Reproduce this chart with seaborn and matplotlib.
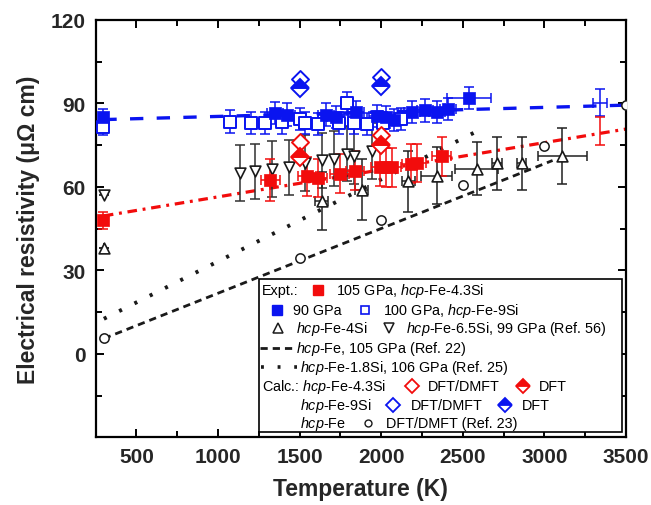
import numpy as np
import pandas as pd
import matplotlib
matplotlib.use("Agg")
import matplotlib.pyplot as plt
import seaborn as sns
from matplotlib.patches import Rectangle
from matplotlib.lines import Line2D

sns.set_theme(style="ticks")
plt.rcParams['font.family'] = ['Liberation Sans', 'DejaVu Sans']
plt.rcParams['mathtext.fontset'] = 'custom'
plt.rcParams['mathtext.rm'] = 'Liberation Sans'
plt.rcParams['mathtext.it'] = 'Liberation Sans:italic'
plt.rcParams['mathtext.bf'] = 'Liberation Sans:bold'

BLUE = '#0a14f0'
RED = '#f20c0c'
BLK = '#1a1a1a'

# ---- Expt. 90 GPa (filled blue squares) ----
T_90 = [297, 1350, 1420, 1660, 1720, 1845, 1975, 2030, 2080, 2190, 2270, 2340, 2410, 2535]
R_90 = [85.0, 86.5, 86.0, 86.0, 85.0, 87.0, 85.5, 85.0, 84.0, 87.0, 87.5, 87.0, 88.0, 92.0]
Rerr_90 = [3, 4, 4, 4, 4, 4, 4, 4, 4, 4, 4, 4, 4, 4]
Terr_90 = [0, 50, 50, 50, 50, 50, 50, 50, 50, 50, 50, 50, 50, 135]
# ---- Expt. 100 GPa, hcp-Fe-9Si (open blue squares) ----
T_100 = [297, 1075, 1200, 1285, 1390, 1500, 1530, 1615, 1740, 1790, 1830, 1910, 2010, 2120]
R_100 = [81.5, 83.5, 83.0, 83.0, 83.2, 84.5, 83.0, 82.5, 83.0, 90.0, 83.0, 82.5, 83.0, 84.3]
Rerr_100 = [3, 4, 4, 4, 4, 4, 4, 4, 4, 4, 4, 4, 4, 4]
Terr_100 = [0, 35, 35, 35, 35, 35, 35, 35, 35, 35, 35, 35, 35, 35]
# ---- Expt. 105 GPa, hcp-Fe-4.3Si (filled red squares) ----
T_105 = [297, 1320, 1545, 1610, 1745, 1840, 1995, 2030, 2065, 2185, 2220, 2370]
R_105 = [48.0, 62.4, 63.8, 63.2, 64.8, 65.8, 67.2, 67.0, 67.0, 68.4, 68.6, 71.0]
Rerr_105 = [3, 7.5, 7, 7, 7, 7, 7, 7, 7, 7, 7, 7]
Terr_105 = [0, 57, 57, 57, 57, 57, 57, 57, 57, 57, 57, 57]
# extrapolated end points with error bars
T_end = [3340]
R_end_90 = [90.3]
R_end_105 = [80.0]
# ---- hcp-Fe-4Si (up triangles) ----
T_4Si = [303, 1635, 1880, 2165, 2340, 2585, 2710, 2860, 3110]
R_4Si = [38.0, 55.0, 59.0, 62.0, 64.0, 66.5, 68.5, 68.5, 71.0]
Rerr_4Si = [0, 10.5, 11, 11, 10.3, 9.5, 9.5, 9.5, 10]
Terr_4Si = [0, 40, 40, 40, 95, 130, 30, 30, 150]
# ---- hcp-Fe-6.5Si, 99 GPa (Ref. 56) (down triangles) ----
T_65Si = [300, 1135, 1228, 1330, 1435, 1530, 1636, 1708, 1790, 1830, 1943]
R_65Si = [57.0, 65.0, 65.6, 66.4, 67.0, 68.7, 69.5, 70.2, 72.0, 71.0, 73.0]
Rerr_65Si = [0, 10, 10, 10, 10, 10, 10, 10, 10, 10, 10]
# ---- Fit / reference lines ----
fitT_90 = [297, 3500]
fitR_90 = [84.2, 89.4]
fitT_105 = [300, 3500]
fitR_105 = [49.6, 80.8]
refT_22 = [300, 3050]
refR_22 = [5.5, 69.5]
refT_25 = [300, 2620]
refR_25 = [12.6, 81.0]
# ---- Calculations ----
T_calc = [1500, 2000]
R_43_dmft = [76.2, 78.8]
R_43_dft = [70.8, 75.0]
R_9_dmft = [98.7, 99.6]
R_9_dft = [95.6, 96.3]
T_fe = [300, 1500, 2000, 2500, 3000, 3500]
R_fe = [5.7, 34.3, 48.0, 60.6, 74.8, 89.5]

W, H = 651, 506
fig = plt.figure(figsize=(W / 100, H / 100), dpi=100)
ax = fig.add_axes([95.7 / W, 1 - 438.3 / H, (626 - 95.7) / W, (438.3 - 21) / H])

# lines
sns.lineplot(x=fitT_90, y=fitR_90, ax=ax, color=BLUE, lw=2.4, linestyle=(0, (4, 4)), zorder=2)
sns.lineplot(x=fitT_105, y=fitR_105, ax=ax, color=RED, lw=2.3, linestyle=(0, (3, 1.8, 0.9, 1.8)), zorder=2)
sns.lineplot(x=refT_22, y=refR_22, ax=ax, color=BLK, lw=2.0, linestyle=(0, (2.6, 1.8)), zorder=2)
sns.lineplot(x=refT_25, y=refR_25, ax=ax, color=BLK, lw=2.8, linestyle=(0, (0.8, 3.6)), zorder=2)

ebk = dict(fmt='none', elinewidth=1.1, capsize=3.5, capthick=1.1, zorder=3)
ax.errorbar(T_65Si, R_65Si, yerr=Rerr_65Si, ecolor='#303030', **ebk)
ax.errorbar(T_4Si, R_4Si, yerr=Rerr_4Si, xerr=Terr_4Si, ecolor='#202020', **ebk)
ax.errorbar(T_105, R_105, yerr=Rerr_105, xerr=Terr_105, ecolor=RED, **ebk)
ax.errorbar(T_100, R_100, yerr=Rerr_100, xerr=Terr_100, ecolor=BLUE, **ebk)
ax.errorbar(T_90, R_90, yerr=Rerr_90, xerr=Terr_90, ecolor=BLUE, **ebk)
ax.errorbar(T_end, R_end_90, yerr=[4.9], xerr=[43], ecolor=BLUE, **ebk)
ax.errorbar(T_end, R_end_105, yerr=[5], ecolor=RED, **ebk)

sns.scatterplot(x=T_65Si, y=R_65Si, ax=ax, marker='v', s=60, facecolor='white', edgecolor=BLK, linewidth=1.2, zorder=4)
sns.scatterplot(x=T_4Si, y=R_4Si, ax=ax, marker='^', s=60, facecolor='white', edgecolor=BLK, linewidth=1.2, zorder=4)
sns.scatterplot(x=T_105, y=R_105, ax=ax, marker='s', s=80, color=RED, edgecolor=RED, linewidth=0.5, zorder=5)
sns.scatterplot(x=T_100, y=R_100, ax=ax, marker='s', s=70, facecolor='white', edgecolor=BLUE, linewidth=1.4, zorder=5)
sns.scatterplot(x=T_90, y=R_90, ax=ax, marker='s', s=80, color=BLUE, edgecolor=BLUE, linewidth=0.5, zorder=6)
sns.scatterplot(x=T_fe, y=R_fe, ax=ax, marker='o', s=45, facecolor='white', edgecolor=BLK, linewidth=1.1, zorder=6)

sns.scatterplot(x=T_calc, y=R_43_dmft, ax=ax, marker='D', s=75, facecolor='white', edgecolor=RED, linewidth=1.4, zorder=7)
sns.scatterplot(x=T_calc, y=R_9_dmft, ax=ax, marker='D', s=75, facecolor='white', edgecolor=BLUE, linewidth=1.4, zorder=7)
ax.plot(T_calc, R_43_dft, ls='none', marker='D', ms=8.8, mfc=RED, mec=RED, mfcalt='white', fillstyle='top', mew=1.4, zorder=7)
ax.plot(T_calc, R_9_dft, ls='none', marker='D', ms=8.8, mfc=BLUE, mec=BLUE, mfcalt='white', fillstyle='top', mew=1.4, zorder=7)

ax.set_xlim(250, 3500)
ax.set_ylim(-30, 120)
ax.set_xticks([500, 1000, 1500, 2000, 2500, 3000, 3500])
ax.set_xticks([750, 1250, 1750, 2250, 2750, 3250], minor=True)
ax.set_yticks([0, 30, 60, 90, 120])
ax.set_yticks([-15, 15, 45, 75, 105], minor=True)
ax.tick_params(which='both', direction='in', top=True, right=True, width=1.4, color='black')
ax.tick_params(which='major', length=6, pad=7, labelsize=15)
ax.tick_params(which='minor', length=4)
for lab in ax.get_xticklabels() + ax.get_yticklabels():
    lab.set_fontweight('bold')
for sp in ax.spines.values():
    sp.set_linewidth(1.6)
    sp.set_color('black')
ax.set_xlabel('Temperature (K)', fontsize=16.5, fontweight='bold', labelpad=8)
ax.set_ylabel('Electrical resistivity (μΩ cm)', fontsize=16.5, fontweight='bold', labelpad=8)

# ---- legend (drawn manually, pixel layout) ----
def P(x, y):
    return (x / W, 1 - y / H)

x0, y0 = P(259, 433.3)
fig.add_artist(Rectangle((x0, y0), (621.7 - 259) / W, (433.3 - 280) / H, transform=fig.transFigure,
                         facecolor='white', edgecolor='black', lw=1.2, zorder=10))
FS = 10.4

def txt(x, y, s):
    fig.text(*P(x, y), s, fontsize=FS, va='center', ha='left', zorder=11, color='black')

def mk(x, y, **kw):
    xx, yy = P(x, y)
    fig.add_artist(Line2D([xx], [yy], transform=fig.transFigure, ls='none', zorder=11, **kw))

def ln(xa, xb, y, **kw):
    xa_, yy = P(xa, y)
    xb_, _ = P(xb, y)
    fig.add_artist(Line2D([xa_, xb_], [yy, yy], transform=fig.transFigure, zorder=11, **kw))

HCP = r'$\mathit{hcp}$'
rows = [290.7, 310.7, 329.3, 349.3, 367.7, 386.7, 405.7, 424.0]
txt(262, rows[0], 'Expt.:')
mk(318.3, rows[0], marker='s', ms=6.5, mfc=RED, mec=RED)
txt(336, rows[0], '105 GPa, ' + HCP + '-Fe-4.3Si')
mk(276.7, rows[1], marker='s', ms=6.5, mfc=BLUE, mec=BLUE)
txt(293, rows[1], '90 GPa')
mk(365, rows[1], marker='s', ms=6, mfc='white', mec=BLUE, mew=1.2)
txt(383, rows[1], '100 GPa, ' + HCP + '-Fe-9Si')
mk(278.3, rows[2], marker='^', ms=6.5, mfc='white', mec=BLK, mew=1.1)
txt(296.5, rows[2], HCP + '-Fe-4Si')
mk(389.3, rows[2], marker='v', ms=6.5, mfc='white', mec=BLK, mew=1.1)
txt(406, rows[2], HCP + '-Fe-6.5Si, 99 GPa (Ref. 56)')
ln(260, 293, rows[3], color=BLK, lw=2.0, ls=(0, (2.6, 1.8)))
txt(296.5, rows[3], HCP + '-Fe, 105 GPa (Ref. 22)')
ln(261, 297, rows[4], color=BLK, lw=2.6, ls=(0, (0.8, 3.8)))
txt(300.5, rows[4], HCP + '-Fe-1.8Si, 106 GPa (Ref. 25)')
txt(262, rows[5], 'Calc.: ' + HCP + '-Fe-4.3Si')
mk(411.7, rows[5], marker='D', ms=7.5, mfc='white', mec=RED, mew=1.3)
txt(428, rows[5], 'DFT/DMFT')
mk(522.7, rows[5], marker='D', ms=7.5, mfc=RED, mec=RED, mfcalt='white', fillstyle='top', mew=1.3)
txt(539, rows[5], 'DFT')
txt(300.5, rows[6], HCP + '-Fe-9Si')
mk(393.3, rows[6], marker='D', ms=7.5, mfc='white', mec=BLUE, mew=1.3)
txt(410.5, rows[6], 'DFT/DMFT')
mk(505, rows[6], marker='D', ms=7.5, mfc=BLUE, mec=BLUE, mfcalt='white', fillstyle='top', mew=1.3)
txt(521.5, rows[6], 'DFT')
txt(300.5, rows[7], HCP + '-Fe')
mk(368.3, rows[7], marker='o', ms=5, mfc='white', mec=BLK, mew=1.0)
txt(386.5, rows[7], 'DFT/DMFT (Ref. 23)')

fig.savefig('out.png', dpi=100)
